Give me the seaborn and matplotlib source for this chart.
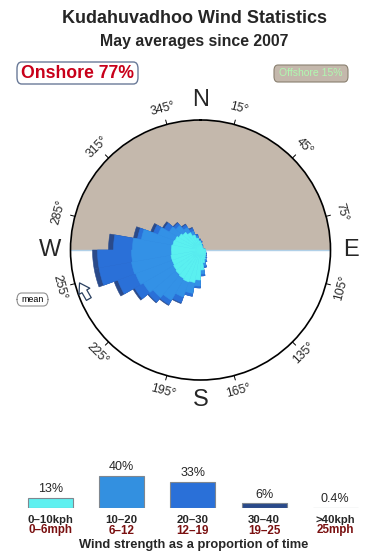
import numpy as np
import pandas as pd
import matplotlib
matplotlib.use("Agg")
import matplotlib.pyplot as plt
import seaborn as sns
from matplotlib.patches import FancyBboxPatch, FancyArrowPatch

# ---------------- data ----------------
directions = [5, 15, 25, 35, 45, 55, 65, 75, 85, 95, 105, 115, 125, 135, 145, 155, 165, 175,
              185, 195, 205, 215, 225, 235, 245, 255, 265, 275, 285, 295, 305, 315, 325, 335, 345, 355]
# cumulative rose radii per speed class (circle edge = 130)
cum_0_10 = [7, 5, 4, 3, 3, 3, 3, 4, 5, 5, 5, 6, 6, 7, 8, 10, 13, 20,
            30, 33, 34, 33, 32, 31, 30, 30, 29, 29, 28, 27, 25, 23, 20, 16, 12, 9]
cum_10_20 = [8, 6, 4, 3, 3, 3, 3, 4, 5, 5, 5, 6, 6, 7, 9, 12, 16, 24,
             36, 44, 50, 58, 62, 66, 69, 70, 69, 68, 60, 45, 36, 32, 26, 20, 14, 10]
cum_20_30 = [9, 6, 5, 4, 3, 3, 3, 4, 5, 5, 5, 6, 7, 8, 10, 13, 18, 26,
             38, 47, 56, 63, 68, 76, 88, 103, 103, 87, 64, 50, 42, 35, 29, 23, 16, 11]
cum_30_40 = [9, 6, 5, 4, 3, 3, 3, 4, 5, 5, 5, 6, 7, 8, 10, 13, 18, 26,
             38, 47, 57, 64, 69, 78, 92, 108, 108, 92, 68, 53, 44, 36, 30, 24, 16, 11]
rose_max = 130

speed_classes = ["0–10kph", "10–20", "20–30", "30–40", ">40kph"]
mph_labels = ["0–6mph", "6–12", "12–19", "19–25", "25mph"]
speed_share = [13, 40, 33, 6, 0.4]
share_labels = ["13%", "40%", "33%", "6%", "0.4%"]

degree_ticks = [15, 45, 75, 105, 135, 165, 195, 225, 255, 285, 315, 345]
compass = {"N": 0, "E": 90, "S": 180, "W": 270}
mean_dir = 255

onshore_text = "Onshore 77%"
offshore_text = "Offshore 15%"

# ---------------- style ----------------
sns.set_theme(style="white")
plt.rcParams["font.family"] = ["Liberation Sans", "DejaVu Sans"]

TAN = "#c4b8ac"
rose_colors = ["#2a4a8a", "#2a70d8", "#3391e6", "#5af0f0"]
bar_colors = ["#5ff0f0", "#3390e0", "#2a70d8", "#2a4a8a", "#a0a0a0"]

W, H = 390, 560
fig = plt.figure(figsize=(W / 100, H / 100), dpi=100)
fig.patch.set_facecolor("white")

def fx(px):
    return px / W

def fy(py):
    return 1 - py / H

# titles
fig.text(fx(194), fy(18.5), "Kudahuvadhoo Wind Statistics", ha="center", va="center",
         fontsize=13, fontweight="bold")
fig.text(fx(194), fy(41.5), "May averages since 2007", ha="center", va="center",
         fontsize=11.4, fontweight="bold")

# onshore / offshore boxes
fig.patches.append(FancyBboxPatch((fx(17), fy(84)), fx(121), 22 / H,
                                  boxstyle="round,pad=0,rounding_size=0.012",
                                  transform=fig.transFigure, facecolor="white",
                                  edgecolor="#6a7a98", linewidth=1.0))
fig.text(fx(77.5), fy(73.5), onshore_text, ha="center", va="center", fontsize=12.7,
         fontweight="bold", color="#c8001a")
fig.patches.append(FancyBboxPatch((fx(274), fy(82)), fx(74), 17 / H,
                                  boxstyle="round,pad=0,rounding_size=0.01",
                                  transform=fig.transFigure, facecolor=TAN,
                                  edgecolor="#8a8070", linewidth=0.8))
fig.text(fx(311), fy(73.5), offshore_text, ha="center", va="center", fontsize=7.5,
         color="#b0f8b0")

# mean box
fig.patches.append(FancyBboxPatch((fx(17), fy(306)), fx(31), 13 / H,
                                  boxstyle="round,pad=0,rounding_size=0.012",
                                  transform=fig.transFigure, facecolor="white",
                                  edgecolor="#909090", linewidth=0.8))
fig.text(fx(32.5), fy(299.5), "mean", ha="center", va="center", fontsize=6.4, color="black")

# ---------------- rose ----------------
ax = fig.add_axes([fx(70.5), fy(380), 260 / W, 260 / H], projection="polar")
ax.set_theta_zero_location("N")
ax.set_theta_direction(-1)
ax.set_ylim(0, rose_max)
ax.grid(False)
ax.set_xticks([])
ax.set_yticks([])
ax.spines["polar"].set_color("black")
ax.spines["polar"].set_linewidth(1.2)
ax.set_facecolor("white")

# offshore half (north)
th = np.linspace(-np.pi / 2, np.pi / 2, 200)
ax.fill_between(th, 0, rose_max, color=TAN, linewidth=0, zorder=1)
# shoreline
ax.plot([np.pi / 2, np.pi / 2], [0, rose_max], color="#b0d0e8", lw=1.0, zorder=2)
ax.plot([3 * np.pi / 2, 3 * np.pi / 2], [0, rose_max], color="#b0d0e8", lw=1.0, zorder=2)

theta = np.deg2rad(directions)
width = np.deg2rad(10)
for cum, col in zip([cum_30_40, cum_20_30, cum_10_20, cum_0_10], rose_colors):
    ax.bar(theta, cum, width=width, bottom=0, color=col, edgecolor=col,
           linewidth=0.4, zorder=3, align="center")

# degree ticks and labels
for d in degree_ticks:
    t = np.deg2rad(d)
    ax.plot([t, t], [rose_max, rose_max * 1.035], color="black", lw=0.7, clip_on=False, zorder=5)
    rot = -d
    while rot < -90:
        rot += 180
    while rot > 90:
        rot -= 180
    ax.text(t, rose_max * 1.125, f"{d}°", ha="center", va="center", rotation=rot,
            rotation_mode="anchor", fontsize=8.8, clip_on=False)

for lab, d in compass.items():
    ax.text(np.deg2rad(d), rose_max * 1.155, lab, ha="center", va="center",
            fontsize=17, clip_on=False)

# mean direction arrow
arrow = FancyArrowPatch((np.deg2rad(mean_dir - 10), rose_max * 0.936),
                        (np.deg2rad(mean_dir + 1), rose_max * 0.97),
                        arrowstyle="simple,head_width=9,head_length=7,tail_width=4",
                        facecolor="white", edgecolor="#2a4060", linewidth=0.9,
                        transform=ax.transData, zorder=6, clip_on=False)
ax.add_patch(arrow)

# ---------------- speed bars ----------------
axb = fig.add_axes([fx(14.9), 52 / H, 356 / W, 48 / H])
df = pd.DataFrame({"speed": speed_classes, "share": speed_share})
sns.barplot(data=df, x="speed", y="share", hue="speed", palette=bar_colors, legend=False,
            width=0.632, saturation=1, edgecolor="#7f8790", linewidth=0.8, ax=axb)
axb.set_xlim(-0.5, 4.5)
axb.set_ylim(0, 60)
axb.axis("off")
for i, (v, pl, kl, ml) in enumerate(zip(speed_share, share_labels, speed_classes, mph_labels)):
    axb.annotate(pl, xy=(i, v), xytext=(0, 5.5), textcoords="offset pixels",
                 ha="center", va="baseline", fontsize=9, annotation_clip=False)
    axb.annotate(kl, xy=(i, 0), xytext=(0, -15), textcoords="offset pixels",
                 ha="center", va="baseline", fontsize=8.2, fontweight="bold",
                 annotation_clip=False)
    axb.annotate(ml, xy=(i, 0), xytext=(0, -25.5), textcoords="offset pixels",
                 ha="center", va="baseline", fontsize=8.4, fontweight="bold",
                 color="#7a1010", annotation_clip=False)

fig.text(fx(194), fy(545), "Wind strength as a proportion of time", ha="center", va="center",
         fontsize=9.3, fontweight="bold")

fig.savefig("out.png", dpi=100)
